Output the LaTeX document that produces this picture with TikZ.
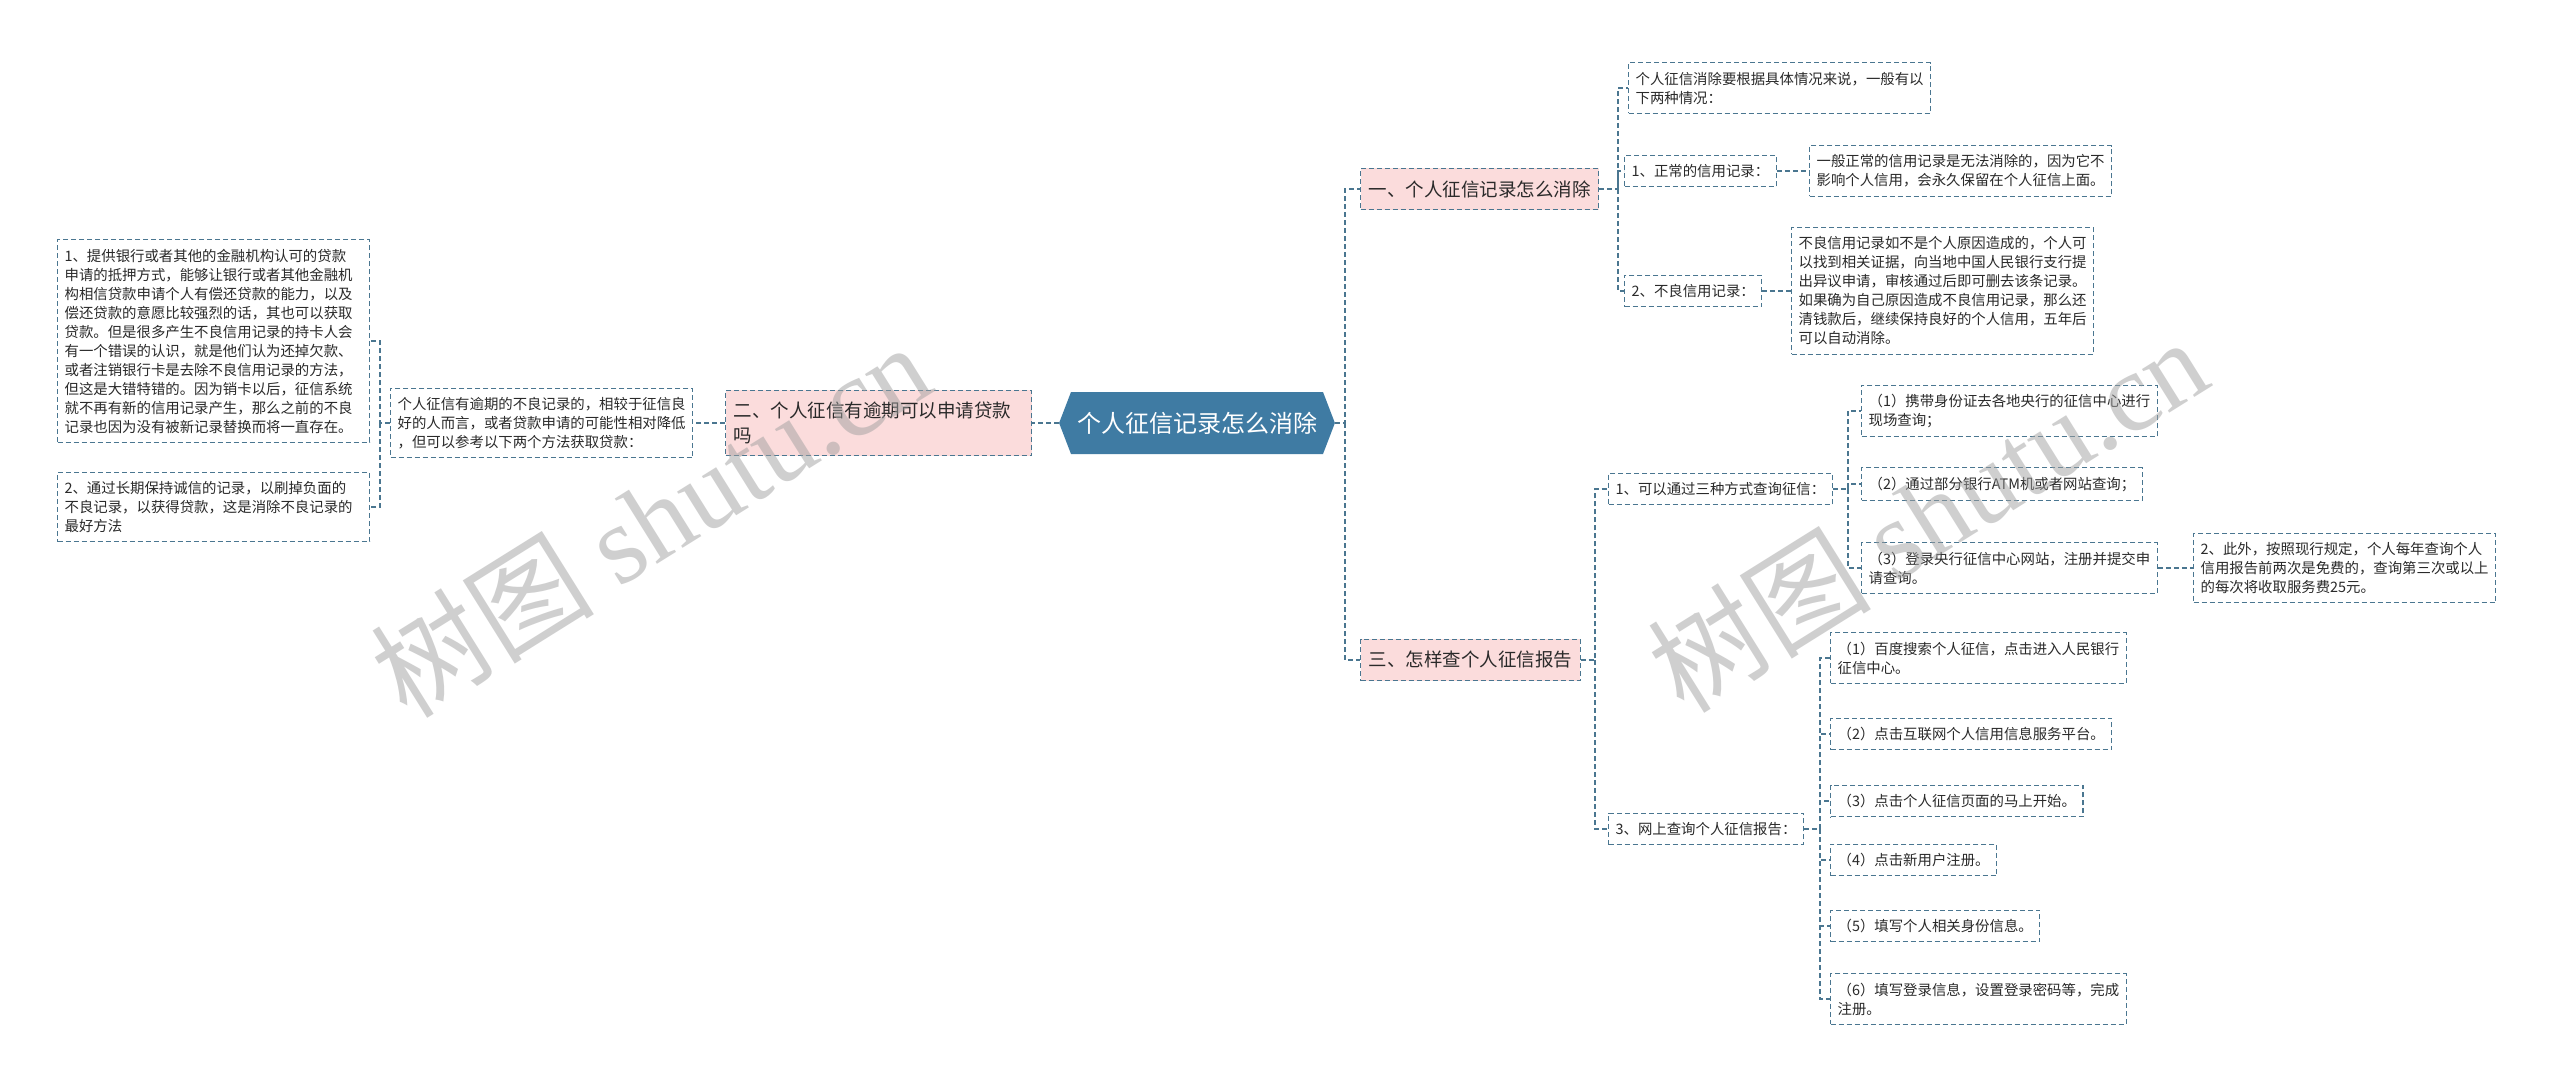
\documentclass[tikz,border=0pt]{standalone}
\usepackage{fontspec}
\setmainfont{Noto Sans CJK SC}
\newfontfamily\wmserif{Liberation Serif}
\usetikzlibrary{shapes.symbols}
\definecolor{lineblue}{HTML}{4A7690}
\definecolor{rootblue}{HTML}{3F7BA3}
\definecolor{pinkfill}{HTML}{FBDCDC}
\definecolor{txt}{HTML}{2A2A2A}
\definecolor{wm}{HTML}{A0A0A0}
\begin{document}
\begin{tikzpicture}[x=1pt,y=-1pt,
  box/.style={draw=lineblue, line width=1.2pt, dash pattern=on 5pt off 3pt, fill=white, align=left,
    inner xsep=7pt, inner ysep=9pt, anchor=west, text=txt, font=\fontsize{14.4}{19}\selectfont},
  branch/.style={box, fill=pinkfill, inner xsep=8pt, inner ysep=12pt, font=\fontsize{18.5}{24.5}\selectfont},
  link/.style={draw=lineblue, line width=1.2pt, dash pattern=on 5pt off 3pt},
  rootnode/.style={signal, signal to=east and west, signal pointer angle=138, fill=rootblue,
    text=white, font=\fontsize{24}{28}\selectfont, minimum height=62pt, inner xsep=6pt},
  wmark/.style={text=wm, opacity=0.5, rotate=32, font=\fontsize{112}{116}\selectfont}]
\useasboundingbox (0,0) rectangle (2560,1087);
\fill[white] (0,0) rectangle (2560,1087);

% bus coordinates
\coordinate (bus0) at (1345,0);
\coordinate (busL) at (380,0);
\coordinate (bus1) at (1618,0);
\coordinate (bus3) at (1595,0);
\coordinate (busF) at (1848,0);
\coordinate (busG) at (1820,0);

% root and branches
\node[rootnode] (root) at (1197,423) {个人征信记录怎么消除};
\node[branch] (b1) at (1360,189) {一、个人征信记录怎么消除};
\node[branch] (b3) at (1360,660) {三、怎样查个人征信报告};
\node[branch, text width=290pt] (b2) at (725,423) {二、个人征信有逾期可以申请贷款\\吗};

% left side
\node[box] (L0) at (390,423) {个人征信有逾期的不良记录的，相较于征信良\\好的人而言，或者贷款申请的可能性相对降低\\，但可以参考以下两个方法获取贷款：};
\node[box, text width=298pt] (L1) at (57,341) {1、提供银行或者其他的金融机构认可的贷款\\申请的抵押方式，能够让银行或者其他金融机\\构相信贷款申请个人有偿还贷款的能力，以及\\偿还贷款的意愿比较强烈的话，其也可以获取\\贷款。但是很多产生不良信用记录的持卡人会\\有一个错误的认识，就是他们认为还掉欠款、\\或者注销银行卡是去除不良信用记录的方法，\\但这是大错特错的。因为销卡以后，征信系统\\就不再有新的信用记录产生，那么之前的不良\\记录也因为没有被新记录替换而将一直存在。};
\node[box, text width=298pt] (L2) at (57,507) {2、通过长期保持诚信的记录，以刷掉负面的\\不良记录，以获得贷款，这是消除不良记录的\\最好方法};

% branch 1 children
\node[box] (A) at (1628,88) {个人征信消除要根据具体情况来说，一般有以\\下两种情况：};
\node[box] (B) at (1624,171) {1、正常的信用记录：};
\node[box] (C) at (1809,171) {一般正常的信用记录是无法消除的，因为它不\\影响个人信用，会永久保留在个人征信上面。};
\node[box] (D) at (1624,291) {2、不良信用记录：};
\node[box] (E) at (1791,291) {不良信用记录如不是个人原因造成的，个人可\\以找到相关证据，向当地中国人民银行支行提\\出异议申请，审核通过后即可删去该条记录。\\如果确为自己原因造成不良信用记录，那么还\\清钱款后，继续保持良好的个人信用，五年后\\可以自动消除。};

% branch 3 children
\node[box] (F) at (1608,489) {1、可以通过三种方式查询征信：};
\node[box] (G) at (1608,829) {3、网上查询个人征信报告：};
\node[box] (F1) at (1861,411) {（1）携带身份证去各地央行的征信中心进行\\现场查询；};
\node[box] (F2) at (1861,484) {（2）通过部分银行ATM机或者网站查询；};
\node[box] (F3) at (1861,568) {（3）登录央行征信中心网站，注册并提交申\\请查询。};
\node[box] (F4) at (2193,568) {2、此外，按照现行规定，个人每年查询个人\\信用报告前两次是免费的，查询第三次或以上\\的每次将收取服务费25元。};
\node[box] (G1) at (1830,658) {（1）百度搜索个人征信，点击进入人民银行\\征信中心。};
\node[box] (G2) at (1830,734) {（2）点击互联网个人信用信息服务平台。};
\node[box] (G3) at (1830,801) {（3）点击个人征信页面的马上开始。};
\node[box] (G4) at (1830,860) {（4）点击新用户注册。};
\node[box] (G5) at (1830,926) {（5）填写个人相关身份信息。};
\node[box] (G6) at (1830,999) {（6）填写登录信息，设置登录密码等，完成\\注册。};

% connectors
\draw[link] (root.east) -- (root.east -| bus0) |- (b1.west);
\draw[link] (root.east -| bus0) |- (b3.west);
\draw[link] (root.west) -- (b2.east);
\draw[link] (b2.west) -- (L0.east);
\draw[link] (L0.west) -- (L0.west -| busL) |- (L1.east);
\draw[link] (L0.west -| busL) |- (L2.east);
\draw[link] (b1.east) -- (b1.east -| bus1) |- (A.west);
\draw[link] (b1.east -| bus1) |- (B.west);
\draw[link] (b1.east -| bus1) |- (D.west);
\draw[link] (B.east) -- (C.west);
\draw[link] (D.east) -- (E.west);
\draw[link] (b3.east) -- (b3.east -| bus3) |- (F.west);
\draw[link] (b3.east -| bus3) |- (G.west);
\draw[link] (F.east) -- (F.east -| busF) |- (F1.west);
\draw[link] (F.east -| busF) |- (F2.west);
\draw[link] (F.east -| busF) |- (F3.west);
\draw[link] (F3.east) -- (F4.west);
\draw[link] (G.east) -- (G.east -| busG) |- (G1.west);
\foreach \n in {G2,G3,G4,G5,G6}{\draw[link] (G.east -| busG) |- (\n.west);}

% watermarks
\node[wmark] (wm1) at (650,519) {树图 {\wmserif shutu.cn}};
\node[wmark] (wm2) at (1927,514) {树图 {\wmserif shutu.cn}};
\end{tikzpicture}
\end{document}
